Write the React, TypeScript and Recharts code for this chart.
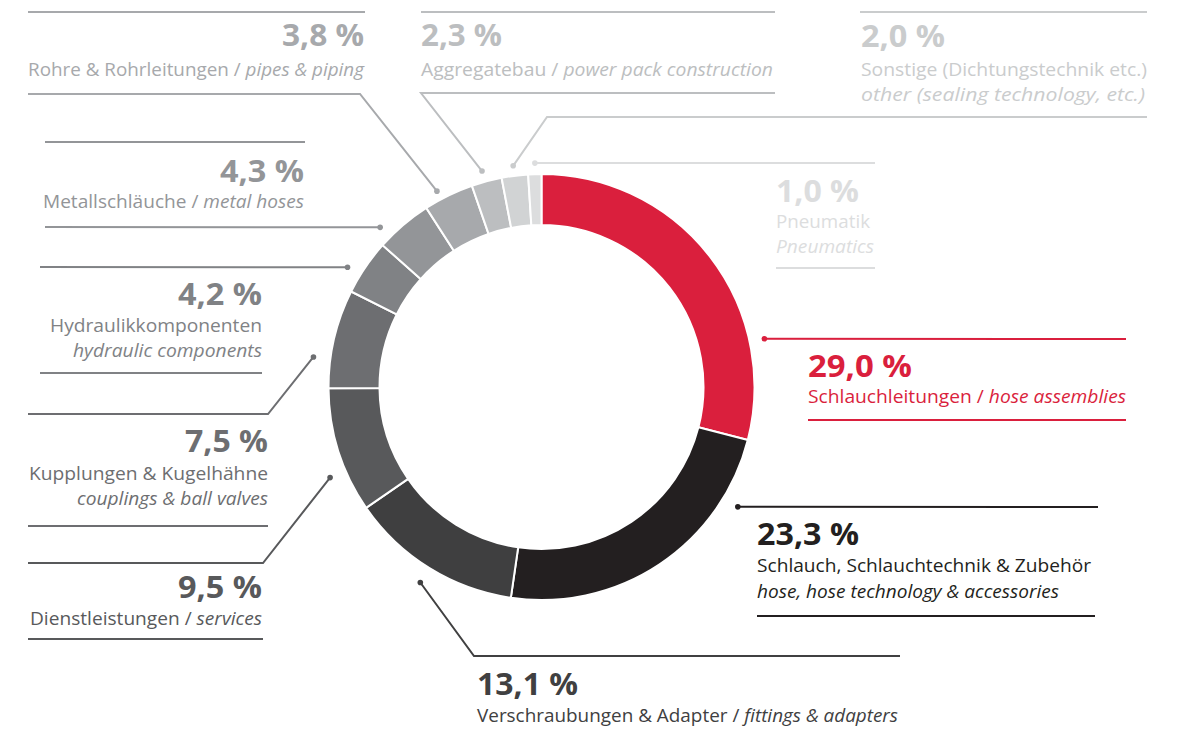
import React from "react";
import { PieChart, Pie, Cell } from "recharts";

const shares = [29.0, 23.3, 13.1, 9.5, 7.5, 4.2, 4.3, 3.8, 2.3, 2.0, 1.0];
const namesDe = [
  "Schlauchleitungen",
  "Schlauch, Schlauchtechnik & Zubehör",
  "Verschraubungen & Adapter",
  "Dienstleistungen",
  "Kupplungen & Kugelhähne",
  "Hydraulikkomponenten",
  "Metallschläuche",
  "Rohre & Rohrleitungen",
  "Aggregatebau",
  "Sonstige (Dichtungstechnik etc.)",
  "Pneumatik",
];
const namesEn = [
  "hose assemblies",
  "hose, hose technology & accessories",
  "fittings & adapters",
  "services",
  "couplings & ball valves",
  "hydraulic components",
  "metal hoses",
  "pipes & piping",
  "power pack construction",
  "other (sealing technology, etc.)",
  "Pneumatics",
];
const sliceColors = [
  "#DA1F3D", "#231F20", "#3F3F40", "#58595B", "#6D6E71", "#808285",
  "#939598", "#A7A9AC", "#BCBEC0", "#D1D3D4", "#DCDDDE",
];
const textColors = [
  "#DA1F3D", "#231F20", "#404041", "#58595B", "#6D6E71", "#808285",
  "#939598", "#A7A9AC", "#BCBEC0", "#CACCCD", "#DCDDDE",
];

type Pt = [number, number];
type Layout = {
  angle: number;
  gap: number;
  path: Pt[];
  anchor: "start" | "end";
  x: number;
  pctY: number;
  pctW: number;
  twoLines: boolean;
  lineY: number[];
  lineW: number[];
  rules: [number, number, number][];
};

const layouts: Layout[] = [
  { angle: 12.2, gap: 15, path: [[1126, 339]], anchor: "start", x: 808, pctY: 377, pctW: 104, twoLines: false, lineY: [403], lineW: [318], rules: [[808, 1126, 420]] },
  { angle: -31.4, gap: 17, path: [[1098, 507]], anchor: "start", x: 757, pctY: 545, pctW: 102, twoLines: true, lineY: [572, 598], lineW: [334, 302], rules: [[757, 1095, 616]] },
  { angle: 238.2, gap: 17, path: [[474, 656], [900, 656]], anchor: "start", x: 477, pctY: 695, pctW: 101, twoLines: false, lineY: [722], lineW: [421], rules: [] },
  { angle: 203.2, gap: 17, path: [[263, 563], [28, 563]], anchor: "end", x: 262, pctY: 598, pctW: 84, twoLines: false, lineY: [625], lineW: [232], rules: [[28, 263, 639]] },
  { angle: 172.5, gap: 17, path: [[268, 414], [28, 414]], anchor: "end", x: 268, pctY: 452, pctW: 83, twoLines: true, lineY: [480, 505], lineW: [239, 191], rules: [[28, 268, 526]] },
  { angle: 148.3, gap: 15, path: [[40, 267]], anchor: "end", x: 262, pctY: 305, pctW: 84, twoLines: true, lineY: [332, 357], lineW: [212, 189], rules: [[40, 262, 373]] },
  { angle: 135.3, gap: 14, path: [[45, 227]], anchor: "end", x: 304, pctY: 182, pctW: 84, twoLines: false, lineY: [208], lineW: [261], rules: [[45, 305, 142]] },
  { angle: 118.1, gap: 9, path: [[360, 94], [28, 94]], anchor: "end", x: 364, pctY: 46, pctW: 82, twoLines: false, lineY: [76], lineW: [336], rules: [[28, 365, 12]] },
  { angle: 105.4, gap: 11, path: [[421, 93], [775, 93]], anchor: "start", x: 421, pctY: 46, pctW: 81, twoLines: false, lineY: [76], lineW: [352], rules: [[421, 775, 12]] },
  { angle: 97.3, gap: 10, path: [[547, 117], [1147, 117]], anchor: "start", x: 861, pctY: 47, pctW: 84, twoLines: true, lineY: [76, 101], lineW: [286, 284], rules: [[860, 1147, 12]] },
  { angle: 91.7, gap: 11, path: [[875, 163]], anchor: "start", x: 776, pctY: 202, pctW: 83, twoLines: true, lineY: [228, 253], lineW: [94, 98], rules: [[776, 875, 268]] },
];

const data = shares.map((v, i) => ({ name: namesDe[i], value: v }));

const FONT = "'Open Sans', 'Noto Sans', sans-serif";
const BODY = 19;

const renderLabel = (props: any) => {
  const { cx, cy, outerRadius, index } = props;
  const L = layouts[index];
  if (!L) return null;
  const rad = (Math.PI / 180) * L.angle;
  const r = outerRadius + L.gap;
  const dotX = cx + r * Math.cos(rad);
  const dotY = cy - r * Math.sin(rad);
  const pts = [[dotX, dotY] as Pt, ...L.path].map((p) => `${p[0]},${p[1]}`).join(" ");
  const c = textColors[index];
  const pct = shares[index].toFixed(1).replace(".", ",") + " %";
  return (
    <g key={`lbl-${index}`}>
      <polyline points={pts} fill="none" stroke={c} strokeWidth={2} strokeLinejoin="miter" />
      <circle cx={dotX} cy={dotY} r={2.8} fill={c} />
      {L.rules.map((ru, k) => (
        <line key={k} x1={ru[0]} x2={ru[1]} y1={ru[2]} y2={ru[2]} stroke={c} strokeWidth={2} />
      ))}
      <text
        x={L.x}
        y={L.pctY}
        textAnchor={L.anchor}
        fill={c}
        fontFamily={FONT}
        fontWeight={700}
        fontSize={30}
        textLength={L.pctW}
        lengthAdjust="spacingAndGlyphs"
      >
        {pct}
      </text>
      {L.twoLines ? (
        <>
          <text x={L.x} y={L.lineY[0]} textAnchor={L.anchor} fill={c} fontFamily={FONT} fontSize={BODY}
            textLength={L.lineW[0]} lengthAdjust="spacingAndGlyphs">
            {namesDe[index]}
          </text>
          <text x={L.x} y={L.lineY[1]} textAnchor={L.anchor} fill={c} fontFamily={FONT} fontSize={BODY}
            fontStyle="italic" textLength={L.lineW[1]} lengthAdjust="spacingAndGlyphs">
            {namesEn[index]}
          </text>
        </>
      ) : (
        <text x={L.x} y={L.lineY[0]} textAnchor={L.anchor} fill={c} fontFamily={FONT} fontSize={BODY}
          textLength={L.lineW[0]} lengthAdjust="spacingAndGlyphs">
          <tspan>{namesDe[index] + " / "}</tspan>
          <tspan fontStyle="italic">{namesEn[index]}</tspan>
        </text>
      )}
    </g>
  );
};

export default function App() {
  return (
    <div style={{ position: "absolute", left: 0, top: 0, width: 1182, height: 731, background: "#fff" }}>
      <PieChart width={1182} height={731} margin={{ top: 0, right: 0, bottom: 0, left: 0 }}>
        <Pie
          data={data}
          dataKey="value"
          nameKey="name"
          cx={541.5}
          cy={387}
          innerRadius={162}
          outerRadius={213}
          startAngle={90}
          endAngle={-270}
          stroke="#ffffff"
          strokeWidth={2}
          isAnimationActive={false}
          label={renderLabel}
          labelLine={false}
        >
          {data.map((d, i) => (
            <Cell key={d.name} fill={sliceColors[i]} />
          ))}
        </Pie>
      </PieChart>
    </div>
  );
}
